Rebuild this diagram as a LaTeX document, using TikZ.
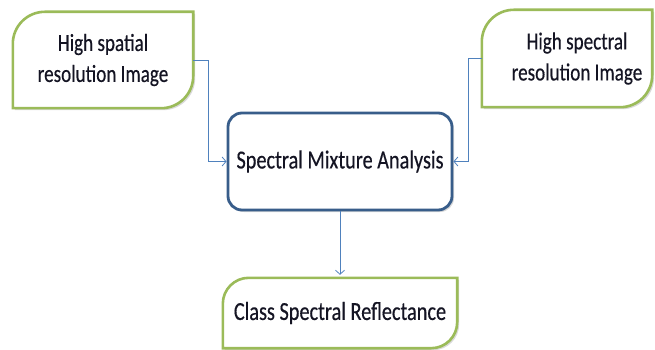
\documentclass[tikz,border=0pt]{standalone}
\usepackage{fontspec}
\setmainfont{Carlito}[FakeStretch=0.78, FakeBold=0.4]
\usetikzlibrary{arrows.meta,shadows,backgrounds}

\definecolor{leafgreen}{RGB}{155,187,89}
\definecolor{boxblue}{RGB}{56,93,138}
\definecolor{linkblue}{RGB}{79,129,189}
\definecolor{inkgrey}{RGB}{20,20,35}

\tikzset{
  sidetext/.style={align=center, text=inkgrey, font=\fontsize{24.5}{31}\selectfont},
  leaftext/.style={align=center, text=inkgrey, font=\fontsize{26}{31}\selectfont},
  leafline/.style={draw=leafgreen, line width=2.6pt, fill=white,
    drop shadow={shadow xshift=2pt, shadow yshift=-2pt, opacity=0.3}},
  mixbox/.style={draw=boxblue, line width=2.8pt, fill=white, rounded corners=14pt,
    minimum width=224pt, minimum height=97pt, leaftext,
    drop shadow={shadow xshift=2pt, shadow yshift=-2pt, opacity=0.3}},
  conn/.style={draw=linkblue, line width=0.8pt, -{Straight Barb[length=4pt,width=9pt]}}
}

% frame with rounded top left and bottom right corners
\newcommand{\leafframe}[2]{%
  \path[leafline] (#1.south west) -- ([yshift=-#2]#1.north west)
    arc[start angle=180, end angle=90, radius=#2] -- (#1.north east)
    -- ([yshift=#2]#1.south east)
    arc[start angle=0, end angle=-90, radius=#2] -- cycle;}

\begin{document}
\begin{tikzpicture}[x=1pt, y=1pt]
  \useasboundingbox (0,0) rectangle (655,-350);

  \node[sidetext, minimum width=180pt, minimum height=96pt] (spatial) at (103,-60) {High spatial\\resolution Image};
  \node[sidetext, minimum width=170pt, minimum height=97pt] (spectral) at (567,-58.5) {\hspace*{20pt}High spectral\\\hspace*{20pt}resolution Image};
  \node[mixbox] (sma) at (340,-161.5) {Spectral Mixture Analysis};
  \node[leaftext, minimum width=234pt, minimum height=70pt] (csr) at (340,-313) {Class Spectral Reflectance};

  \begin{scope}[on background layer]
    \leafframe{spatial}{32pt}
    \leafframe{spectral}{32pt}
    \leafframe{csr}{26pt}
  \end{scope}

  \path[conn] (spatial.east) -| ([xshift=-18pt]sma.west) -- (sma.west);
  \path[conn] (spectral.west) -| ([xshift=15pt]sma.east) -- (sma.east);
  \path[conn] (sma.south) -- ([yshift=3pt]csr.north);
\end{tikzpicture}
\end{document}
